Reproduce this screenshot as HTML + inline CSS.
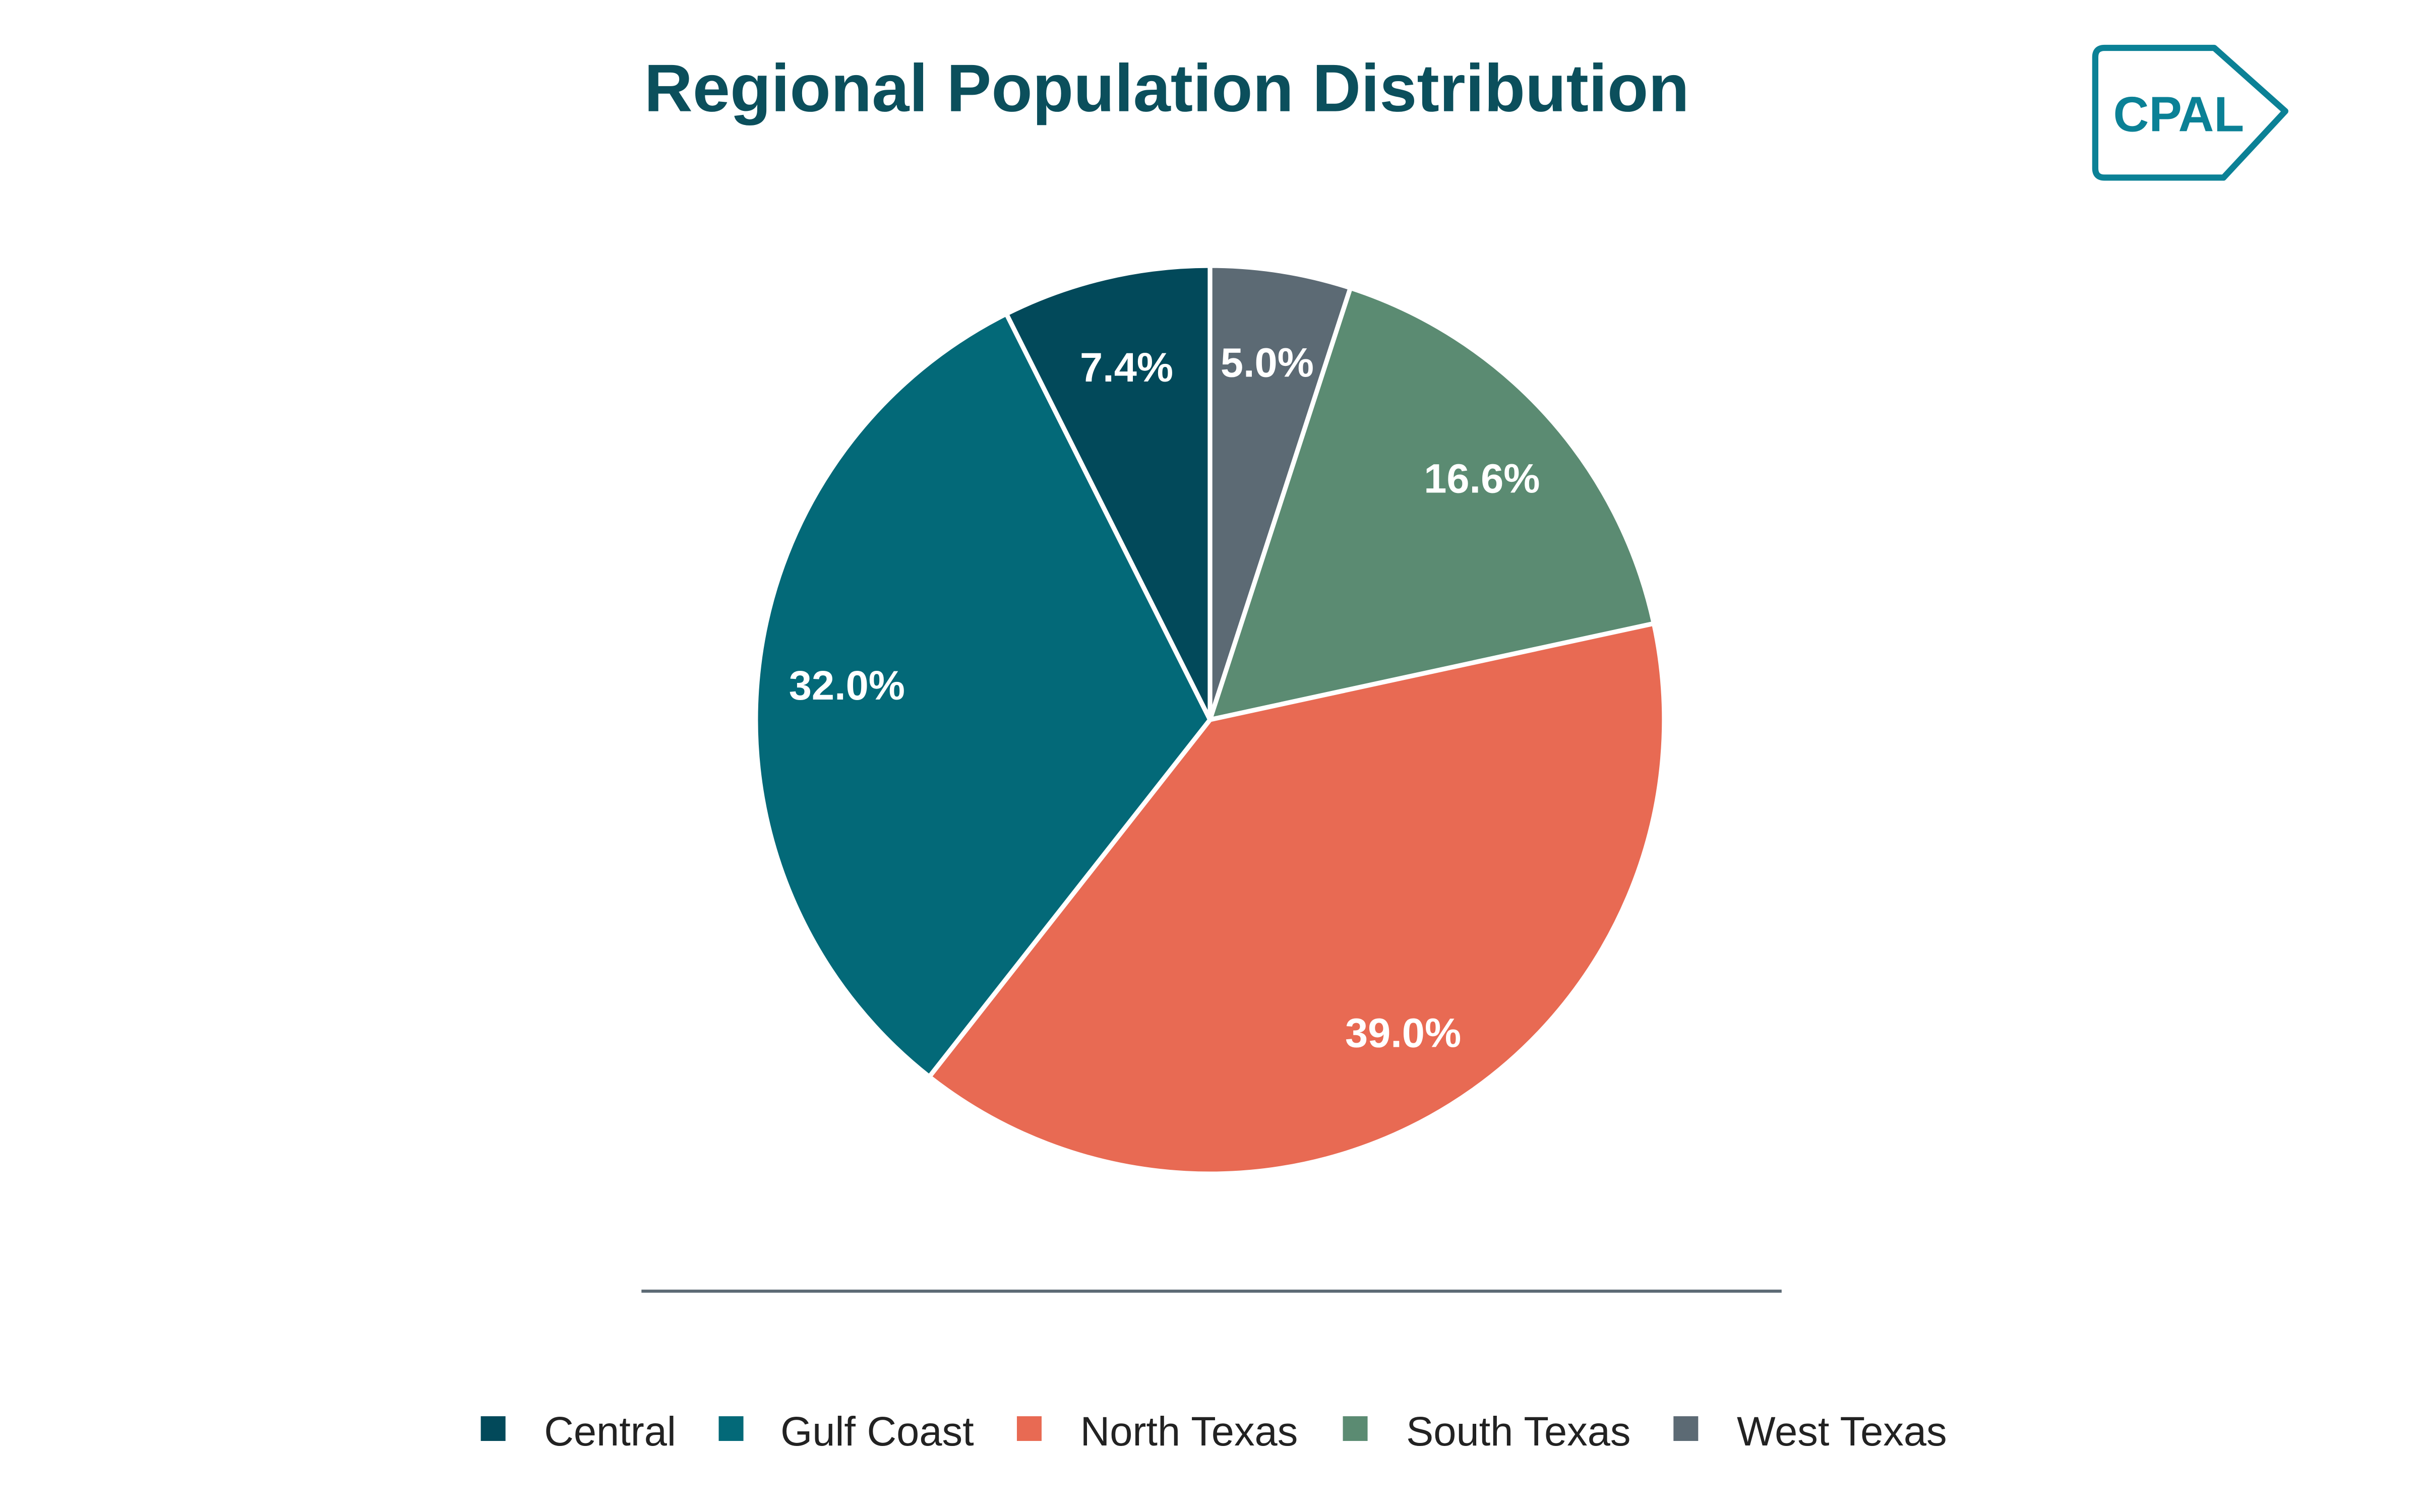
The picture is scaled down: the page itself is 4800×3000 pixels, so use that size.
<!DOCTYPE html>
<html><head><meta charset="utf-8"><style>html,body{margin:0;padding:0;background:#fff}svg{display:block}</style></head>
<body>
<svg width="4800" height="3000" viewBox="0 0 1566 979" xmlns="http://www.w3.org/2000/svg" font-family="Liberation Sans, Arial, sans-serif">
<rect width="1566" height="979" fill="#fff"/>
<text x="755" y="72" text-anchor="middle" font-size="43.5" font-weight="bold" fill="#0b4f5c">Regional Population Distribution</text>
<path d="M1362,31 H1433 L1479,72 L1439,115 H1362 Q1356,115 1356,109 V37 Q1356,31 1362,31 Z" fill="none" stroke="#0b8196" stroke-width="4" stroke-linejoin="round"/>
<text x="1410" y="85" text-anchor="middle" font-size="32" font-weight="bold" fill="#0b8196">CPAL</text>
<g stroke="#fff" stroke-width="3" stroke-linejoin="round">
<path d="M783,466 L783,172 A294,294 0 0 1 873.9,186.4 Z" fill="#5c6a74"/>
<path d="M783,466 L873.9,186.4 A294,294 0 0 1 1070.3,403.7 Z" fill="#5b8b72"/>
<path d="M783,466 L1070.3,403.7 A294,294 0 0 1 601.3,697.2 Z" fill="#e86a53"/>
<path d="M783,466 L601.3,697.2 A294,294 0 0 1 651.2,203.2 Z" fill="#036978"/>
<path d="M783,466 L651.2,203.2 A294,294 0 0 1 783,172 Z" fill="#02495a"/>
</g>
<g font-size="26.5" font-weight="bold" fill="#fff" text-anchor="middle">
<text x="729" y="247">7.4%</text>
<text x="820" y="244">5.0%</text>
<text x="959" y="319">16.6%</text>
<text x="548" y="453">32.0%</text>
<text x="908" y="678">39.0%</text>
</g>
<line x1="415" y1="836" x2="1153" y2="836" stroke="#5c6a74" stroke-width="2"/>
<g font-size="26.5" fill="#222">
<rect x="311" y="917" width="16" height="16" fill="#02495a"/><text x="352" y="936">Central</text>
<rect x="465" y="917" width="16" height="16" fill="#036978"/><text x="505" y="936">Gulf Coast</text>
<rect x="658" y="917" width="16" height="16" fill="#e86a53"/><text x="699" y="936">North Texas</text>
<rect x="869" y="917" width="16" height="16" fill="#5b8b72"/><text x="910" y="936">South Texas</text>
<rect x="1083" y="917" width="16" height="16" fill="#5c6a74"/><text x="1124" y="936">West Texas</text>
</g>
</svg>
</body></html>
